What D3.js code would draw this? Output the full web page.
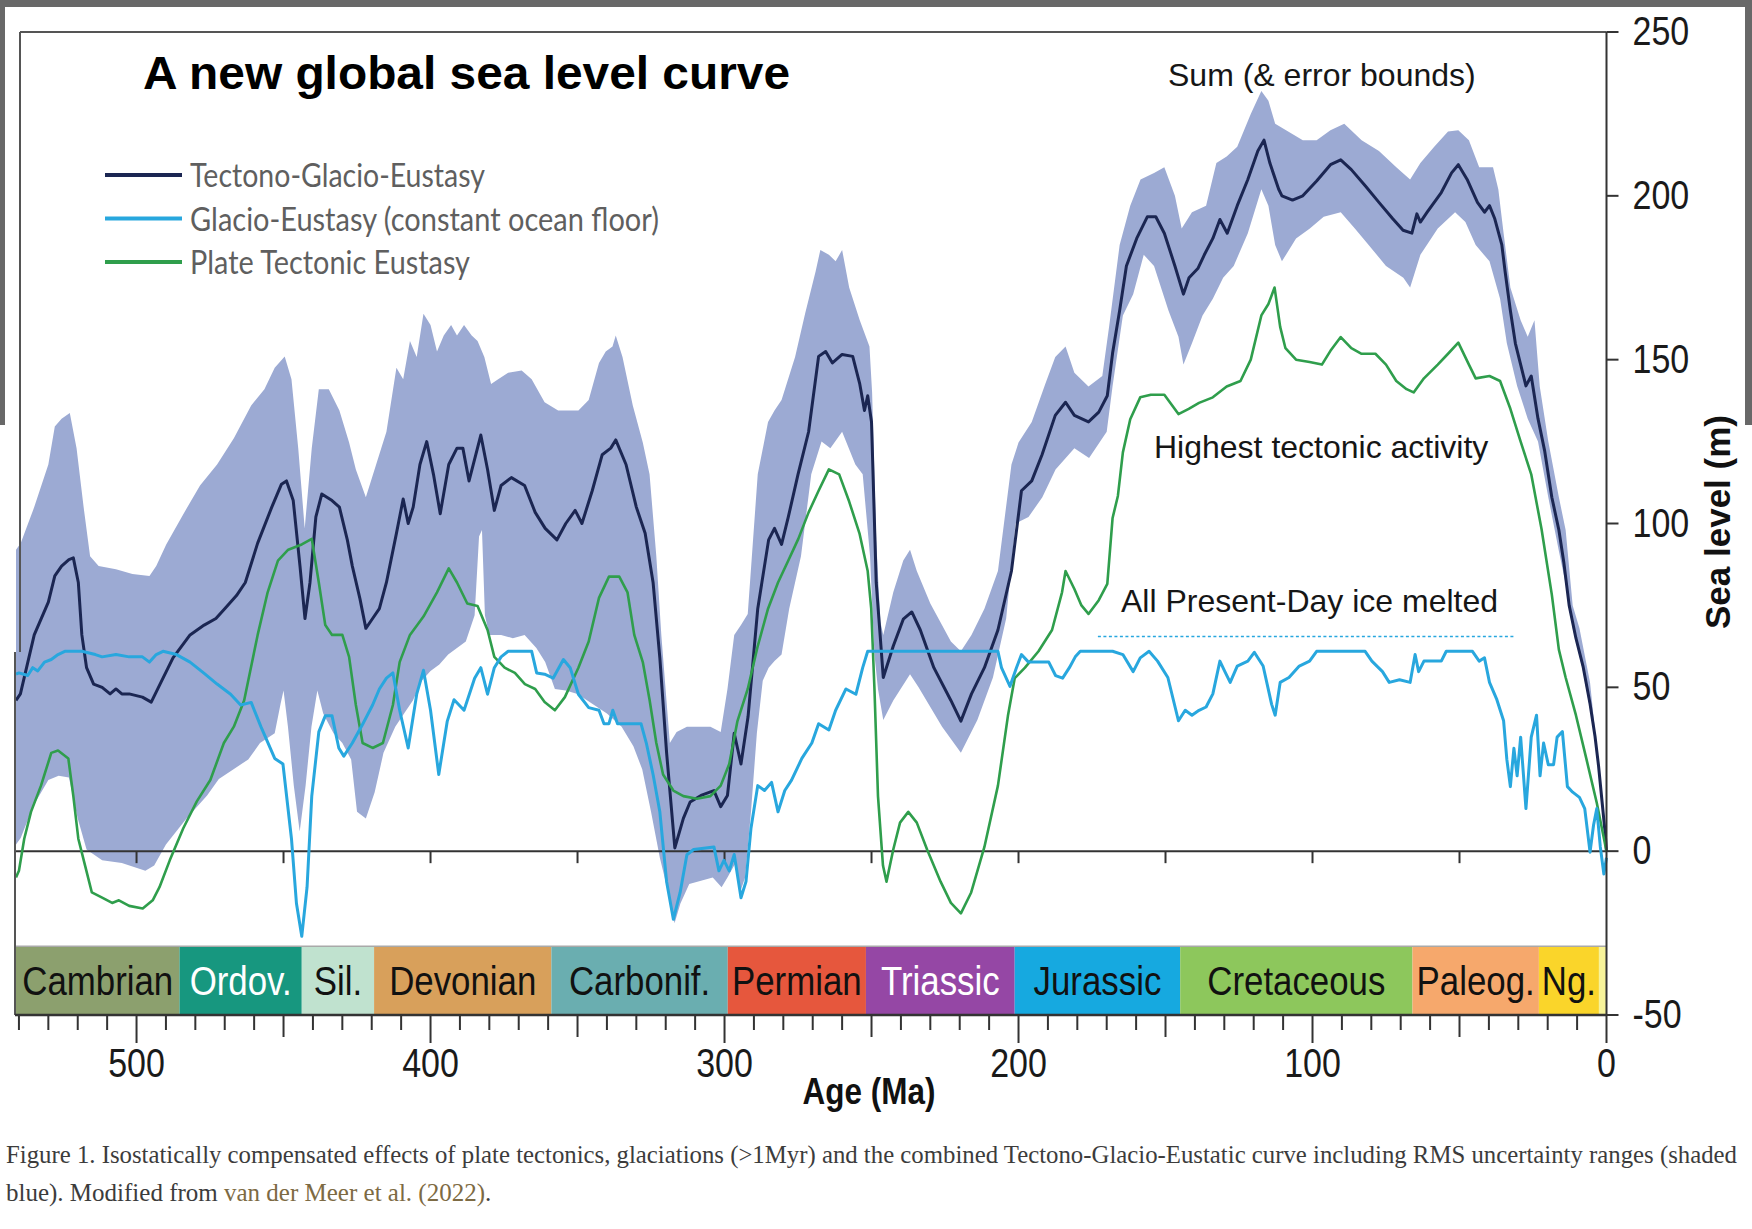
<!DOCTYPE html>
<html>
<head>
<meta charset="utf-8">
<script src="https://cdn.jsdelivr.net/npm/d3@7"></script>
<style>
  html, body { margin: 0; padding: 0; background: #ffffff; }
  svg { display: block; }
</style>
</head>
<body>
<svg id="chart" width="1752" height="1229"></svg>
<script>
// ---------------- data: [age (Ma), sea level (m)] ----------------
const tectonoGlacio = [
  [541,46],[539.5,48],[534.8,66],[530,76],[527.8,84],[525.5,87],[523,89],[521.5,89.5],[519.8,82],[518.6,66],
  [517,56],[514.6,51],[511.7,50],[509,48],[507,49.5],[505,48],[502.5,48],[498,47],[495,45.5],[492,51],
  [487.6,59],[481.8,66],[477,69],[473,71],[470,74],[466,78],[463,82],[458.8,94],[454,105],[450.7,112],
  [449,113],[446.7,107],[444.4,87],[442.7,71],[441,82],[439,102],[437,109],[433.5,107],[431,105],[428.3,95],
  [426.6,87],[424,77],[422,68],[419.7,71],[417.4,74],[415,82],[411.6,97],[409.3,107.5],[407.6,100],[405.9,105],
  [403.6,118],[401.3,125],[399,115],[396.7,103],[393.8,118],[391,123],[389,123],[386.9,113],[384.6,121],[382.9,127],
  [380.6,116.5],[378.3,104],[376,111.6],[372.5,114],[368,111.6],[364.4,103.4],[361,98.5],[357,95],[354,100],[350.8,104],
  [348.5,100],[345,110],[341.6,121],[338.7,123],[337,125.5],[333.5,118],[330,105],[327,97],[324.3,82],[322,59],
  [319.7,30],[316.9,1],[314,10],[311.7,15],[308,17],[303.6,18.5],[301.3,13.6],[299,17],[296.7,36],[294.4,26.6],
  [292,41],[288.7,74],[285,95],[283,98.5],[280.6,93.6],[278.3,102],[275,115],[271.4,128],[268,151],[265.6,152.5],
  [263.3,149],[260,151.6],[256.4,151],[254,142.6],[252.4,134.5],[251.3,139],[250,131],[248.4,82],[246,53],[242.6,62.6],
  [239.2,70.8],[236.3,73],[233.4,67.5],[228.8,56],[223,46],[219.6,39.7],[216,48],[211.6,56],[207,67.5],[202.4,85.5],
  [199,110],[195.5,113],[192,121],[187.5,133],[184,137],[181,133],[176.2,131],[172.7,134],[169.8,139],[168,152],
  [165.6,165],[163.3,178.6],[159.8,187],[156.2,193.6],[153.3,193.6],[150.4,188.6],[146.8,178.6],[143.9,170],[142,175],[139,177.8],
  [136.8,182],[133.9,187],[131.5,192.8],[129,188.6],[125.6,197],[122,205],[118.6,213.7],[116.5,217],[114.5,210],[111.5,202],
  [110.4,200],[106.8,198.7],[103.3,200],[98.6,204.5],[93.9,209.5],[90.4,211],[86.8,208],[82,203],[77.4,198],[72.7,193],
  [69.2,189.5],[66.2,188.6],[64.5,194.5],[63.3,192],[61,195],[56.2,201],[52.7,207],[50.4,209.5],[47.4,205],[43.9,198],
  [41.5,195],[39.8,197],[38,193],[35.6,185],[34.5,177],[32.7,165],[31,155],[29.2,148.5],[27.4,142],[25.6,145],
  [23.3,132],[21,122],[18.6,108],[16.2,98],[14.5,88],[12.7,75],[10.4,65],[8,56.5],[5.6,45],[3.9,35],
  [2.7,26],[1.5,15],[0.4,5],[0,0]
];

const errorUpper = [
  [541,92],[539.4,94],[534.8,105],[530,118],[527.8,129.6],[525.5,132],[522.7,133.7],[520.4,123],[518,105],[515.8,90],
  [512.9,87],[507,86],[501.4,84.6],[495.6,84],[493.3,87],[489.9,93.6],[484,103],[478.4,111.6],[472.6,118],[466.9,126],
  [461,136],[456.5,141],[453,147.5],[449.6,151],[447.3,144],[445,123],[442.8,98.5],[440.4,123],[438,141],[434.6,141],
  [431,134.5],[427.7,124.7],[425.4,116.5],[422,108],[418.5,118],[415,128],[411.6,147.5],[409.3,144],[407,155.7],[404.7,150.8],
  [402.4,164],[400,160.6],[397.8,152.5],[395.5,157.4],[393,160.6],[391,157.4],[388.6,160.6],[386,157.4],[384,155.7],[381.7,150.8],
  [379.4,142.6],[377,144],[373.6,146],[369,146.7],[365.6,144],[361.2,137],[356.6,134.5],[349.7,134.5],[346.2,137.7],[342.7,149],
  [340.4,152.5],[338.1,154],[337,157.4],[334.7,150.8],[331.2,136],[327.8,124.7],[325.5,115],[323.2,90],[321.5,66],[318.6,33],
  [316.3,36.4],[312.8,38],[309.4,38],[304.8,38],[301.3,36.4],[299,49.5],[296.7,66],[294.4,69],[292.1,72.4],[288.7,115],
  [285.2,131],[283,134.5],[280.6,137.7],[276,150.8],[272.6,164],[269,177],[267.4,183.5],[264.5,182],[262.2,180],[260,183.5],
  [257.6,172],[254,162],[250.7,154],[249.8,140],[248.4,95],[247,70],[246,66],[242.6,79],[239.2,88.7],[236.9,92],
  [234.6,85.5],[230,75.6],[223,64],[219.6,61],[216,66],[211.6,74],[207,85.5],[202.4,118],[200,124.7],[195.5,131],
  [190.9,142.6],[187.5,150.8],[184,154],[181,146],[176.2,141.8],[171.5,145],[169.2,160],[165.6,185],[162,197],[158.5,205],
  [153.9,207],[150.4,208.7],[146.8,200],[144.5,190],[141,195],[136.2,197],[132.7,210],[129.2,212],[125.6,215],[121,225],
  [117.4,232],[115,229],[112.7,222],[109,220],[103.3,217],[98.6,217],[93.9,220],[89.2,222],[83.3,217],[77.4,213.7],
  [71.5,208.7],[66.8,205],[63.3,210],[58.6,215],[53.9,219.6],[50.4,220],[46.8,217],[43.3,208.7],[38.6,208.7],[36.8,202],
  [35,188.6],[32.7,172],[29.2,162],[26.8,157],[24.5,162],[22.7,141.8],[19.8,125],[16.2,108],[13.9,98],[11.5,75],
  [9.2,68],[5.6,51.5],[3.3,31.4],[0.9,11],[0,3]
];

const errorLower = [
  [541,2],[539.4,4],[535,14],[530,21.7],[526.5,23],[523,22.5],[520,10],[517,0.5],[511.7,-2.8],[505,-3.6],
  [497,-6],[494,-4.4],[490,2],[483,10],[476,17],[472,22],[467,25],[462,28],[458,33],[453,36],
  [451,45],[450,49],[448.5,38],[446.5,20],[444.5,6],[442.5,20],[440.5,38],[438.5,49],[436.5,42],[433,36],
  [430,33],[427,28],[425,12],[422,10],[419,18],[416,30],[412,38],[409,42],[406,46],[403,52],
  [400,55],[397,57],[394,60],[391,62],[388,64],[385,72],[383.5,96],[382.5,98],[381.5,72],[380,66],
  [376,66],[372,65],[368,66],[364,62],[361,57.7],[357.7,49.5],[354,49],[350,48],[345,45],[340,42],
  [335,38],[331,32],[328,25],[325,12],[322,-2],[318.5,-15],[317,-22],[315,-16],[312,-10],[308,-9],
  [304,-8],[301,-11],[299,-8],[296.5,-4],[294.5,-12],[293,-8],[291,12],[289,36],[287,52],[285,56],
  [283,58],[280.6,60],[278,74],[274,90],[270.5,115],[267,125],[264,123],[260,128],[255.5,118],[253,115],
  [250.5,90],[249,60],[247.8,49.5],[246,40],[242.6,46],[236.9,54],[234,50],[230,44],[226,38],[219.6,30],
  [214,40],[208.7,53],[204.2,71],[201,100],[196.6,102],[191.9,108],[187.4,116.5],[181,123],[176,120],[170,128],
  [168,142],[164.5,163.5],[161,170],[157.4,182],[153.9,178.6],[149,165],[145.6,157],[143.9,148.5],[141,155],[137.4,163.5],
  [133.9,168.6],[130.4,175],[126.8,178.6],[122,188.6],[117.4,202],[115,197],[112.7,185],[110.4,180],[105.6,187],[100.9,190],
  [96.2,193.6],[90.4,195],[85.6,190],[80.9,185],[75,178.6],[69.1,175],[66.8,172],[63.3,182],[57.4,190],[51.5,195],
  [48,192],[44.5,185],[39.8,180],[36.2,168.6],[33.9,155],[30.4,142],[26.8,132],[23.3,125],[19.8,108],[16.2,91.6],
  [13.9,81.6],[11.5,68],[8,55],[4.5,38],[2.1,21],[0.4,6],[0,0]
];

const glacioEustasy = [
  [541,54],[540,54.4],[537,53.6],[535.3,56],[533.6,55],[531.3,57.7],[529,58.5],[526.7,60],[524.4,61],[518.6,61],
  [514,60],[511.7,59.3],[507,60],[502.5,59.3],[498,59.3],[495.6,57.7],[493.3,60],[491,61],[486.4,60],[481.8,57.7],
  [477.2,54.4],[472.6,51],[468,47.9],[464.6,44.6],[461,45.4],[457.7,38],[453,28.3],[450.2,26.6],[447.3,3.8],[445.6,-16],
  [443.8,-26],[442,-11],[440.4,16.8],[438,36.4],[435.8,41.3],[433.5,41.3],[431.2,31.5],[429.5,29],[426.6,33],[423,38.9],
  [419.7,44.6],[417.4,49.5],[415,52.8],[412.8,54.4],[410.5,43],[407.6,31.5],[404.7,47.9],[402.4,55.2],[400,43],[397.2,23.4],
  [394.3,39.7],[392,46.2],[388.6,43],[385,52.8],[382.9,56],[380.6,47.9],[378.3,56],[376,59.3],[373.6,61],[365.6,61],
  [363.9,54.4],[361.2,54],[358.3,52.8],[354.8,58.5],[352.5,56],[349.7,47.9],[346.2,43.8],[342.7,43],[341,38.9],[339.3,38.9],
  [338,43],[336.4,38.9],[328.4,38.9],[326.6,33],[324.3,23.4],[322,12],[319.7,-9.3],[317.4,-20.8],[315.1,-12.6],[312.8,-1.1],
  [310.5,0.5],[303.6,1.3],[301.9,-6],[300.2,-2.8],[298.4,-6],[296.7,-1],[294.4,-14.2],[292.7,-9.3],[291,7],[288.7,20],
  [286.4,18.5],[284,21],[281.8,12],[279.5,18.5],[277.2,21.7],[273.7,28.3],[270.3,33],[268,38.9],[264.5,37],[262.2,43],
  [258.7,49.5],[255.3,47.9],[253,56],[251.3,61],[207,61],[205.8,56],[202.9,50.3],[200.7,56],[199,60],[196.6,57.7],
  [189.7,57.7],[187.4,53.6],[185,52.8],[182.7,56],[180.7,59.3],[179,61],[168,61],[164.5,60],[161,54.8],[158.6,59],
  [155.6,61],[152.7,58],[149.2,53],[145.6,39.8],[143.3,43],[141,41.5],[138.6,43],[136.2,44],[133.9,48],[131.5,58],
  [129.8,54.8],[128,51.5],[125.6,56.5],[122,58],[119.8,60.7],[116.8,56.5],[113.9,44.8],[112.7,41.5],[111,51.5],[108,53],
  [104.5,56.5],[101,58],[98.6,61],[82.1,61],[79.8,58],[76.2,54.8],[73.9,51.5],[70.4,52.3],[66.8,51.5],[65.1,60],
  [63.9,54.8],[62.1,58],[56.2,58],[54.5,61],[45.6,61],[43.3,58],[41.5,59],[39.8,51.5],[37.4,46.5],[35,39.8],
  [33.9,28],[32.7,19.7],[31.5,31.4],[30.4,23],[29.2,34.8],[27.4,13],[25.6,34.8],[23.8,41.5],[22.6,23],[21.4,33],
  [19.8,26.4],[18,26.4],[16.8,34.8],[15,36.5],[13.3,19.7],[11.5,18],[9.2,16.4],[7.4,13],[5.6,-0.3],[4.4,8],
  [3.3,13],[2.1,1.3],[0.9,-7],[0,-2]
];

const plateTectonic = [
  [541,-8],[540,-6],[538.2,3.8],[535.9,12],[532.5,20],[529,30],[526.7,30.7],[523.2,28.3],[521.5,16.8],[519.8,3.8],
  [517.5,-4.4],[515.2,-12.6],[511.7,-14.2],[508.3,-15.8],[506,-15],[502.5,-16.7],[497.9,-17.5],[494.5,-15],[492.2,-11],[488.7,-2.8],
  [484.1,7],[479.5,15.2],[474.9,21.7],[470.3,33],[466.9,38],[463.4,46],[461.1,56],[458.8,66],[455.4,79],[451.9,88.7],
  [448.4,92],[443.8,93.6],[440.4,95.3],[438,82],[435.8,69],[433.5,66],[430,66],[427.7,59.3],[425.4,44.6],[423.1,33],
  [419.7,31.5],[416.2,33],[412.8,44.6],[410.5,57.7],[407,66],[402.4,71.6],[397.8,79],[393.8,86.3],[391,82],[387.5,75.6],
  [384,74.8],[380.6,67.5],[378.3,59.3],[374.8,56],[371.3,54.4],[367.9,51],[364.4,49.5],[361.2,45.5],[357.7,43],[354.3,47],
  [349.7,56],[346.2,64],[342.7,77.3],[339.3,83.8],[335.8,83.8],[333,79],[330.7,66],[327.8,57.7],[325.5,46.2],[323.2,33],
  [320.9,23.4],[317.4,18.5],[314,16.8],[309.4,16],[304.8,16.8],[301.3,20],[298.4,26.6],[295.6,39.7],[292.1,49.5],[288.7,62.6],
  [285.2,74],[281.8,82],[278.3,88.7],[274.9,95.3],[271.4,103.4],[268,110],[264.5,116.5],[261,115],[257.6,106.7],[254.1,97],
  [251.3,85.5],[250.1,74],[249,49.5],[247.8,16.8],[246.1,-4.4],[244.9,-9.3],[242.6,0.5],[240.3,8.7],[237.5,12],[234.6,8.7],
  [231.1,0.5],[226.5,-9.3],[223,-15.8],[219.6,-19],[216.1,-12.6],[211.6,1.3],[207,20],[203.6,41.3],[201.3,52.8],[197.8,56],
  [193.2,61],[188.6,67.5],[185.2,79],[184,85.5],[181,80],[178.6,75],[176.2,72.4],[172.7,76.6],[169.8,81.6],[168,101.7],
  [166.2,108.4],[164.5,121.7],[162,131.8],[158.6,138.5],[155,139.3],[150.4,139.3],[145.6,133.4],[142.1,135],[138.6,136.8],[133.9,138.5],
  [129.2,141.8],[124.5,143.5],[121,150],[117.4,163.5],[115,167],[112.9,172],[111,160],[109.2,153.5],[105.6,150],[101,149.3],
  [96.8,148.5],[93.9,152.7],[90.4,156.9],[86.8,153.5],[83.3,151.8],[78.6,151.8],[75,148.5],[71.5,143.5],[68,141],[65.6,140],
  [62.1,144.3],[57.4,148.5],[53.9,151.8],[50.4,155.2],[46.8,148.5],[44.5,144.3],[39.8,145],[36.2,143.5],[32.7,135],[29.2,125],
  [25.6,115],[22.1,98.3],[18.6,78.3],[16.2,61.5],[13.9,53],[10.4,41.5],[6.8,28],[3.3,14.7],[0,0]
];

// geological periods (Ma)
const periodNames  = ["Cambrian","Ordov.","Sil.","Devonian","Carbonif.","Permian","Triassic","Jurassic","Cretaceous","Paleog.","Ng.",""];
const periodStart  = [541, 485.4, 443.8, 419.2, 358.9, 298.9, 251.9, 201.3, 145, 66, 23, 2.58];
const periodEnd    = [485.4, 443.8, 419.2, 358.9, 298.9, 251.9, 201.3, 145, 66, 23, 2.58, 0];

// axis ticks
const ageTicks    = d3.range(540, -1, -10);
const ageLabels   = [500, 400, 300, 200, 100, 0];
const zeroTicks   = d3.range(500, 49, -50);
const levelTicks  = [250, 200, 150, 100, 50, 0, -50];

// reference level: all present-day ice melted
const iceMeltedLevel = 65.5;
const iceMeltedSpan  = [173, 31];

const legendLabels = ["Tectono-Glacio-Eustasy", "Glacio-Eustasy (constant ocean floor)", "Plate Tectonic Eustasy"];

// ---------------- styles ----------------
const C = {
  navy: "#1b2652", sky: "#28a7de", green: "#2f9e4c", band: "#9caad3",
  axis: "#333333", frame: "#555555", chrome: "#686868"
};
const periodFill = ["#8ca06e","#17977f","#c0e2cf","#d8a05b","#6aaeb0","#e6573d","#9547a5","#16a9e0","#8dc75c","#f6a86c","#fad52a","#f7f39a"];
const periodInk  = ["#111","#fff","#111","#111","#111","#111","#fff","#111","#111","#111","#111","#111"];
const NARROW = 0.85;

const svg = d3.select("#chart");
const W = 1752, H = 1229;

const x = d3.scaleLinear().domain([541, 0]).range([16, 1606.5]);
const y = d3.scaleLinear().domain([-50, 250]).range([1015, 32]);
const xRight = x(0);

svg.append("rect").attr("width", W).attr("height", H).attr("fill", "#fff");

// window chrome
svg.append("rect").attr("x", 0).attr("y", 0).attr("width", W).attr("height", 7).attr("fill", C.chrome);
svg.append("rect").attr("x", 0).attr("y", 0).attr("width", 5).attr("height", 425).attr("fill", C.chrome);
svg.append("rect").attr("x", W - 7).attr("y", 0).attr("width", 7).attr("height", 425).attr("fill", C.chrome);

// ---------------- uncertainty band ----------------
const line = d3.line().x(d => x(d[0])).y(d => y(d[1]));
const bandRing = errorUpper.concat(errorLower.slice().reverse());
svg.append("path").attr("d", line(bandRing) + "Z").attr("fill", C.band).attr("stroke", "none");

// zero line and its ticks
svg.append("line").attr("x1", 14).attr("x2", xRight).attr("y1", y(0)).attr("y2", y(0))
  .attr("stroke", C.axis).attr("stroke-width", 2);
svg.append("g").selectAll("line").data(zeroTicks).join("line")
  .attr("x1", d => x(d)).attr("x2", d => x(d)).attr("y1", y(0)).attr("y2", y(0) + 12)
  .attr("stroke", C.axis).attr("stroke-width", 2);

// ---------------- curves ----------------
svg.append("path").attr("d", line(tectonoGlacio)).attr("fill", "none")
  .attr("stroke", C.navy).attr("stroke-width", 3).attr("stroke-linejoin", "round");
svg.append("path").attr("d", line(plateTectonic)).attr("fill", "none")
  .attr("stroke", C.green).attr("stroke-width", 2.6).attr("stroke-linejoin", "round");
svg.append("path").attr("d", line(glacioEustasy)).attr("fill", "none")
  .attr("stroke", C.sky).attr("stroke-width", 3).attr("stroke-linejoin", "round");

// ice-melted reference
svg.append("line")
  .attr("x1", x(iceMeltedSpan[0])).attr("x2", x(iceMeltedSpan[1]))
  .attr("y1", y(iceMeltedLevel)).attr("y2", y(iceMeltedLevel))
  .attr("stroke", C.sky).attr("stroke-width", 1.5).attr("stroke-dasharray", "3,2.5");

// ---------------- period bar ----------------
const barTop = y(-29), barBottom = y(-50);
const periods = periodNames.map((n, i) => ({ name: n, s: periodStart[i], e: periodEnd[i], fill: periodFill[i], ink: periodInk[i] }));
svg.append("g").selectAll("rect").data(periods).join("rect")
  .attr("x", d => x(d.s)).attr("width", d => x(d.e) - x(d.s))
  .attr("y", barTop).attr("height", barBottom - barTop)
  .attr("fill", d => d.fill);
svg.append("line").attr("x1", x(541)).attr("x2", xRight).attr("y1", barTop).attr("y2", barTop)
  .attr("stroke", "#a9a9a9").attr("stroke-width", 1.5);
svg.append("g").selectAll("text").data(periods.filter(d => d.name)).join("text")
  .attr("transform", d => `translate(${(x(d.s) + x(d.e)) / 2},${(barTop + barBottom) / 2 + 14}) scale(${NARROW},1)`)
  .attr("text-anchor", "middle")
  .attr("font-family", "'Liberation Sans', Arial, sans-serif").attr("font-size", 41)
  .attr("fill", d => d.ink).text(d => d.name);

// ---------------- frame ----------------
const fr = svg.append("g").attr("stroke", C.frame).attr("stroke-width", 2).attr("fill", "none");
fr.append("line").attr("x1", 20).attr("x2", xRight).attr("y1", y(250)).attr("y2", y(250));
fr.append("line").attr("x1", 20).attr("x2", 20).attr("y1", y(250)).attr("y2", 652);
fr.append("line").attr("x1", 15).attr("x2", 15).attr("y1", 652).attr("y2", barBottom);
svg.append("line").attr("x1", 15).attr("x2", xRight).attr("y1", barBottom).attr("y2", barBottom)
  .attr("stroke", C.axis).attr("stroke-width", 2.5);
svg.append("line").attr("x1", xRight).attr("x2", xRight).attr("y1", y(250)).attr("y2", barBottom)
  .attr("stroke", C.axis).attr("stroke-width", 2);

// ---------------- x axis (age) ----------------
const tickLen = d => (d % 100 === 0 ? 28 : d % 50 === 0 ? 22 : 15);
svg.append("g").selectAll("line").data(ageTicks).join("line")
  .attr("x1", d => x(d)).attr("x2", d => x(d))
  .attr("y1", barBottom).attr("y2", d => barBottom + tickLen(d))
  .attr("stroke", C.axis).attr("stroke-width", 2);
svg.append("g").selectAll("text").data(ageLabels).join("text")
  .attr("transform", d => `translate(${x(d)},1077) scale(${NARROW},1)`)
  .attr("text-anchor", "middle")
  .attr("font-family", "'Liberation Sans', Arial, sans-serif").attr("font-size", 40)
  .attr("fill", "#1a1a1a").text(d => d);
svg.append("text")
  .attr("transform", `translate(869,1104) scale(${NARROW},1)`)
  .attr("text-anchor", "middle")
  .attr("font-family", "'Liberation Sans', Arial, sans-serif").attr("font-size", 37).attr("font-weight", "bold")
  .attr("fill", "#111").text("Age (Ma)");

// ---------------- y axis (sea level) ----------------
svg.append("g").selectAll("line").data(levelTicks).join("line")
  .attr("x1", xRight).attr("x2", xRight + 12)
  .attr("y1", d => y(d)).attr("y2", d => y(d))
  .attr("stroke", C.axis).attr("stroke-width", 2);
svg.append("g").selectAll("text").data(levelTicks).join("text")
  .attr("transform", d => `translate(${xRight + 26},${y(d) + 13}) scale(${NARROW},1)`)
  .attr("font-family", "'Liberation Sans', Arial, sans-serif").attr("font-size", 40)
  .attr("fill", "#1a1a1a").text(d => d);
svg.append("text")
  .attr("transform", "translate(1717,522) rotate(-90)")
  .attr("text-anchor", "middle").attr("dominant-baseline", "central")
  .attr("font-family", "'Liberation Sans', Arial, sans-serif").attr("font-size", 35).attr("font-weight", "bold")
  .attr("fill", "#111").text("Sea level (m)");

// ---------------- title, legend, notes ----------------
svg.append("text").attr("x", 143).attr("y", 89)
  .attr("font-family", "'Liberation Sans', Arial, sans-serif").attr("font-size", 46).attr("font-weight", "bold")
  .attr("textLength", 647).attr("lengthAdjust", "spacingAndGlyphs")
  .attr("fill", "#000").text("A new global sea level curve");

const legendColors = [C.navy, C.sky, C.green];
const legendWidths = [295, 469, 280];
const lg = svg.append("g").selectAll("g").data(legendLabels).join("g")
  .attr("transform", (d, i) => `translate(0,${175 + i * 43.5})`);
lg.append("line").attr("x1", 105).attr("x2", 182).attr("y1", 0).attr("y2", 0)
  .attr("stroke", (d, i) => legendColors[i]).attr("stroke-width", 4);
lg.append("text").attr("x", 190).attr("y", 12)
  .attr("font-family", "Lato, 'Open Sans', sans-serif").attr("font-size", 33)
  .attr("textLength", (d, i) => legendWidths[i]).attr("lengthAdjust", "spacingAndGlyphs")
  .attr("fill", "#5f5f5f").text(d => d);

const notes = svg.append("g").attr("font-family", "'Liberation Sans', Arial, sans-serif")
  .attr("font-size", 32).attr("fill", "#161616");
notes.append("text").attr("x", 1168).attr("y", 86).text("Sum (& error bounds)");
notes.append("text").attr("x", 1154).attr("y", 458).text("Highest tectonic activity");
notes.append("text").attr("x", 1121).attr("y", 612).text("All Present-Day ice melted");

// ---------------- caption ----------------
const cap = svg.append("g").attr("font-family", "'Liberation Serif', 'Times New Roman', serif")
  .attr("font-size", 25).attr("fill", "#3c3c3c");
cap.append("text").attr("x", 6).attr("y", 1163)
  .attr("textLength", 1731).attr("lengthAdjust", "spacingAndGlyphs")
  .text("Figure 1. Isostatically compensated effects of plate tectonics, glaciations (>1Myr) and the combined Tectono-Glacio-Eustatic curve including RMS uncertainty ranges (shaded");
const cap2 = cap.append("text").attr("x", 6).attr("y", 1201);
cap2.append("tspan").text("blue). Modified from ");
cap2.append("tspan").attr("fill", "#7d6a43").text("van der Meer et al. (2022)");
cap2.append("tspan").text(".");
</script>
</body>
</html>
